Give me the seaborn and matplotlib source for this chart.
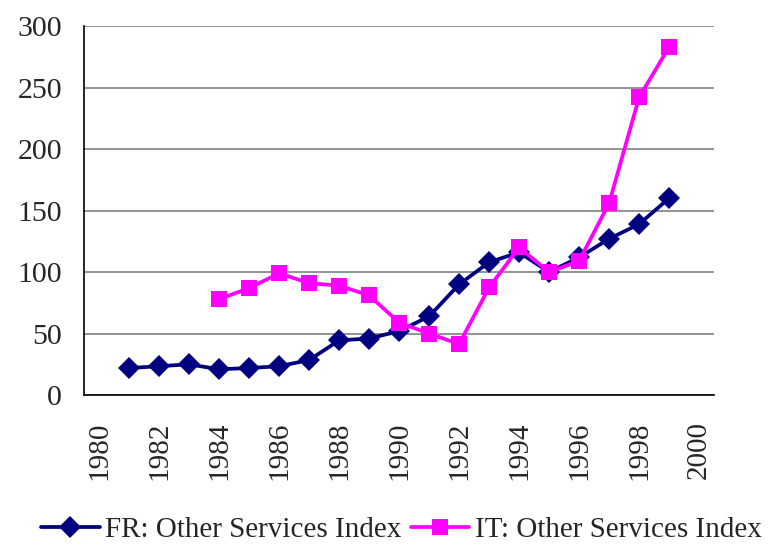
import numpy as np
import pandas as pd
import matplotlib
matplotlib.use("Agg")
import matplotlib.pyplot as plt
import seaborn as sns

years_fr = list(range(1981, 2000))
fr_values = [22, 23.5, 25, 21, 22, 23.5, 28.5, 44.5, 46, 52, 64, 90, 108, 116, 100, 112, 127, 139, 160]
years_it = list(range(1984, 2000))
it_values = [78, 87, 99, 91, 89, 81, 59, 50, 41.5, 87.5, 120, 100, 109, 156, 242, 283]
fr_label = "FR: Other Services Index"
it_label = "IT: Other Services Index"
x_tick_labels = [str(y) for y in range(1980, 2001, 2)]
y_ticks = [0, 50, 100, 150, 200, 250, 300]

df = pd.concat([
    pd.DataFrame({"year": years_fr, "value": fr_values, "series": fr_label}),
    pd.DataFrame({"year": years_it, "value": it_values, "series": it_label}),
])

sns.set_style("white")
plt.rcParams["font.family"] = ["Liberation Serif", "DejaVu Serif"]

fig = plt.figure(figsize=(7.72, 5.48), dpi=100)
ax = fig.add_axes([0.109, 0.279, 0.816, 0.6735])

sns.lineplot(data=df, x="year", y="value", hue="series", style="series",
             markers={fr_label: "D", it_label: "s"}, dashes=False,
             palette={fr_label: "#000080", it_label: "#FF00FF"},
             linewidth=2.7, markersize=11.5, markeredgewidth=0, ax=ax, zorder=3)

ax.set_xlim(1979.5, 2000.5)
ax.set_ylim(0, 300)
ax.set_yticks(y_ticks)
ax.set_yticklabels([str(v) for v in y_ticks], fontsize=21.5)
ax.set_xticks(list(range(1980, 2001, 2)))
ax.set_xticklabels(x_tick_labels, rotation=90, fontsize=21)
ax.set_xticks(np.arange(1979.5, 2001, 1), minor=True)
ax.tick_params(axis="x", which="major", length=0, pad=19)
ax.tick_params(axis="x", which="minor", length=6, width=1, color="black", direction="out")
ax.tick_params(axis="y", which="major", length=7, width=1, color="black", direction="out", pad=9)
ax.grid(axis="y", color="#808080", linewidth=1.2)
ax.grid(axis="x", visible=False)
ax.set_axisbelow(True)
for s in ["top", "right"]:
    ax.spines[s].set_visible(False)
for s in ["left", "bottom"]:
    ax.spines[s].set_color("black")
    ax.spines[s].set_linewidth(1.2)
ax.set_xlabel("")
ax.set_ylabel("")

handles, labels = ax.get_legend_handles_labels()
ax.get_legend().remove()
fig.legend(handles, labels, loc="center", bbox_to_anchor=(0.52, 0.033), ncol=2,
           frameon=False, fontsize=21, handlelength=2.0, columnspacing=0.3,
           handletextpad=0.2, borderpad=0, borderaxespad=0)

fig.savefig("out.png", dpi=100)
